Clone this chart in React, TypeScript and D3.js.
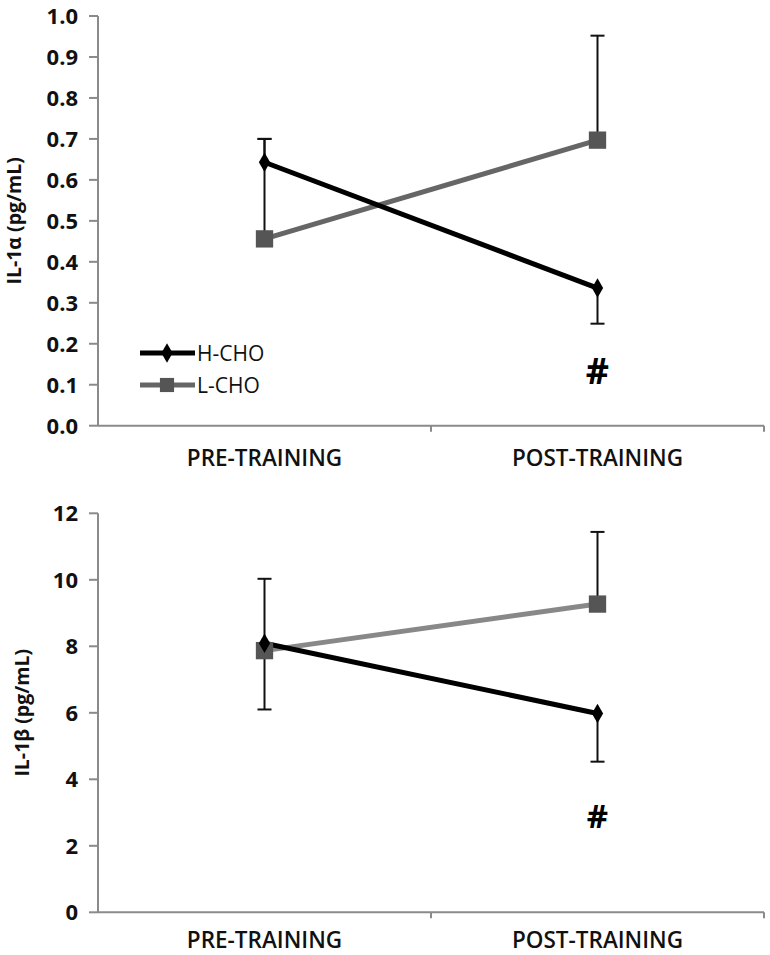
import * as d3 from "d3";

const phases = ["PRE-TRAINING", "POST-TRAINING"];
const groups = ["H-CHO", "L-CHO"];

// IL-1α (pg/mL)
const il1aH = [0.643, 0.336];
const il1aL = [0.456, 0.697];
const il1aErrH = [0.057, -0.087];
const il1aErrL = [0.244, 0.255];
const il1aTicks = [0, 0.1, 0.2, 0.3, 0.4, 0.5, 0.6, 0.7, 0.8, 0.9, 1.0];

// IL-1β (pg/mL)
const il1bH = [8.09, 5.98];
const il1bL = [7.87, 9.27];
const il1bErrH = [1.94, -1.45];
const il1bErrL = [-1.77, 2.17];
const il1bTicks = [0, 2, 4, 6, 8, 10, 12];

const FONT = "'Open Sans', 'DejaVu Sans', sans-serif";

interface PanelProps {
  top: number;
  bottom: number;
  domain: [number, number];
  ticks: number[];
  fmt: (v: number) => string;
  label: string;
  labelX: number;
  catOffset: number;
  h: number[];
  l: number[];
  errH: number[];
  errL: number[];
  lColor: string;
  legend?: boolean;
  hashY: number;
  hashSize: number;
}

function Panel(p: PanelProps) {
  const x = d3.scaleBand<string>().domain(phases).range([98, 764]);
  const y = d3.scaleLinear().domain(p.domain).range([p.bottom, p.top]);
  const cx = (i: number) => (x(phases[i]) ?? 0) + x.bandwidth() / 2;
  const line = d3
    .line<number>()
    .x((_, i) => cx(i))
    .y((d) => y(d));
  const diamond = d3.symbol(d3.symbolDiamond, 110)() ?? "";
  const square = d3.symbol(d3.symbolSquare, 300)() ?? "";

  const errBars = (vals: number[], errs: number[], key: string) =>
    vals.map((v, i) => {
      const e = v + errs[i];
      return (
        <g key={key + i} stroke="#111" strokeWidth={2}>
          <line x1={cx(i)} x2={cx(i)} y1={y(v)} y2={y(e)} />
          <line x1={cx(i) - 7} x2={cx(i) + 7} y1={y(e)} y2={y(e)} />
        </g>
      );
    });

  const midY = (p.top + p.bottom) / 2;

  return (
    <g>
      {/* axes */}
      <g stroke="#8a8a8a" strokeWidth={2} fill="none">
        <line x1={98} x2={98} y1={p.top} y2={p.bottom} />
        <line x1={98} x2={764} y1={p.bottom} y2={p.bottom} />
        {p.ticks.map((t) => (
          <line key={t} x1={89} x2={98} y1={y(t)} y2={y(t)} />
        ))}
        {phases.map((c) => (
          <line
            key={c}
            x1={(x(c) ?? 0) + x.bandwidth()}
            x2={(x(c) ?? 0) + x.bandwidth()}
            y1={p.bottom}
            y2={p.bottom + 6}
          />
        ))}
      </g>
      {p.ticks.map((t) => (
        <text
          key={t}
          x={78}
          y={y(t)}
          dy="0.36em"
          textAnchor="end"
          fontFamily={FONT}
          fontWeight={700}
          fontSize={22}
          fill="#111"
        >
          {p.fmt(t)}
        </text>
      ))}
      {phases.map((c, i) => (
        <text
          key={c}
          x={cx(i)}
          y={p.bottom + p.catOffset}
          textAnchor="middle"
          fontFamily={FONT}
          fontWeight={600}
          fontSize={22.5}
          fill="#111"
        >
          {c}
        </text>
      ))}
      <text
        transform={`translate(${p.labelX},${midY}) rotate(-90)`}
        textAnchor="middle"
        dy="0.35em"
        fontFamily={FONT}
        fontWeight={700}
        fontSize={19.5}
        fill="#111"
      >
        {p.label}
      </text>

      {/* error bars */}
      {errBars(p.l, p.errL, "l")}
      {errBars(p.h, p.errH, "h")}

      {/* series */}
      <path d={line(p.l) ?? ""} stroke={p.lColor} strokeWidth={5} fill="none" />
      <path d={line(p.h) ?? ""} stroke="#000" strokeWidth={5} fill="none" />
      {p.l.map((v, i) => (
        <path key={"sq" + i} d={square} transform={`translate(${cx(i)},${y(v)})`} fill="#555" />
      ))}
      {p.h.map((v, i) => (
        <path key={"dm" + i} d={diamond} transform={`translate(${cx(i)},${y(v)})`} fill="#000" />
      ))}

      <text
        x={cx(1)}
        y={p.hashY}
        textAnchor="middle"
        fontFamily={FONT}
        fontWeight={700}
        fontSize={p.hashSize}
        fill="#000"
      >
        #
      </text>

      {p.legend && (
        <g>
          {groups.map((g, i) => {
            const ly = 353 + i * 32;
            return (
              <g key={g}>
                <line
                  x1={140}
                  x2={195}
                  y1={ly}
                  y2={ly}
                  stroke={i === 0 ? "#000" : p.lColor}
                  strokeWidth={5}
                />
                <path
                  d={i === 0 ? diamond : d3.symbol(d3.symbolSquare, 200)() ?? ""}
                  transform={`translate(167,${ly})`}
                  fill={i === 0 ? "#000" : "#555"}
                />
                <text
                  x={197}
                  y={ly}
                  dy="0.36em"
                  fontFamily={FONT}
                  fontSize={21}
                  fill="#111"
                >
                  {g}
                </text>
              </g>
            );
          })}
        </g>
      )}
    </g>
  );
}

export default function App() {
  return (
    <svg
      width={770}
      height={955}
      style={{ position: "absolute", left: 0, top: 0, background: "#fff" }}
    >
      <Panel
        top={16}
        bottom={425.7}
        domain={[0, 1]}
        ticks={il1aTicks}
        fmt={(v) => v.toFixed(1)}
        label="IL-1α (pg/mL)"
        labelX={14}
        catOffset={40}
        h={il1aH}
        l={il1aL}
        errH={il1aErrH}
        errL={il1aErrL}
        lColor="#666"
        legend
        hashY={384}
        hashSize={36}
      />
      <Panel
        top={513.3}
        bottom={912.3}
        domain={[0, 12]}
        ticks={il1bTicks}
        fmt={(v) => String(v)}
        label="IL-1β (pg/mL)"
        labelX={22}
        catOffset={36}
        h={il1bH}
        l={il1bL}
        errH={il1bErrH}
        errL={il1bErrL}
        lColor="#888"
        hashY={828}
        hashSize={33}
      />
    </svg>
  );
}
